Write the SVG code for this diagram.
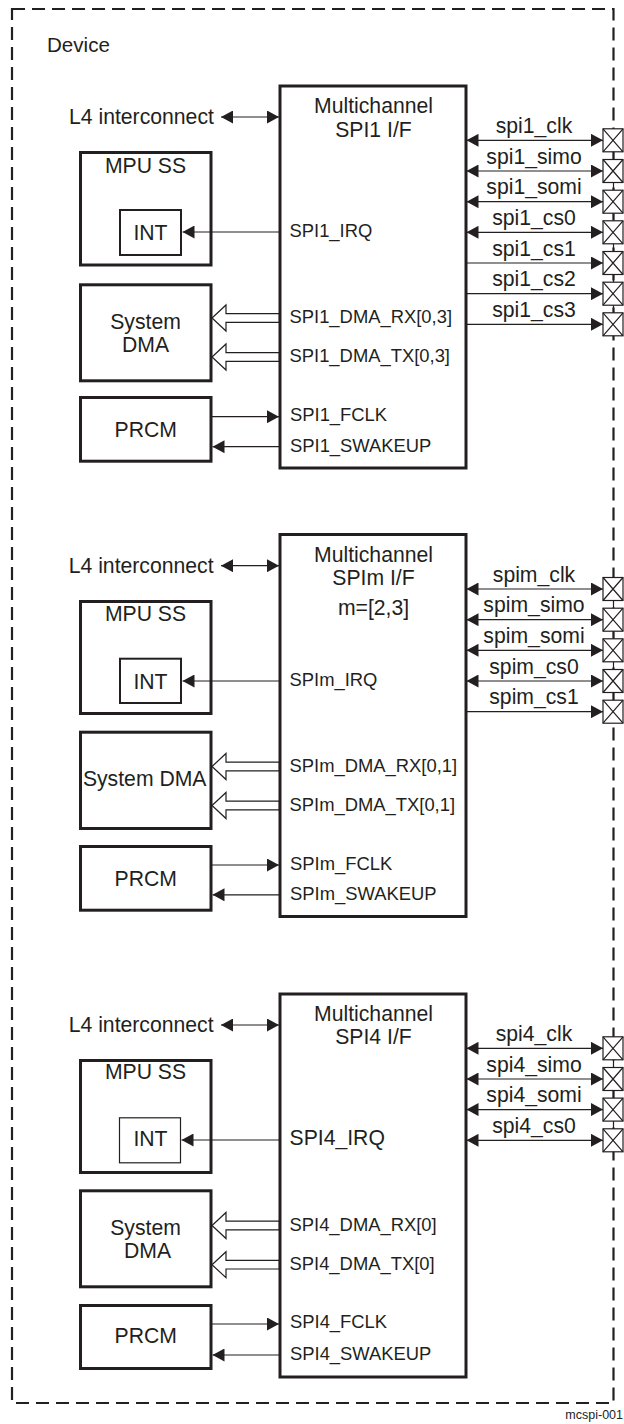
<svg xmlns="http://www.w3.org/2000/svg" width="624" height="1424" viewBox="0 0 624 1424">
<style>
  text { font-family: "Liberation Sans", Arial, sans-serif; fill: #231f20; }
  .big { font-size: 21.2px; }
  .sig { font-size: 18.4px; }
  .mid { text-anchor: middle; }
  .box { fill: #fff; stroke: #231f20; stroke-width: 3; }
  .int { fill: #fff; stroke: #231f20; stroke-width: 2; }
  .int3 { fill: #fff; stroke: #231f20; stroke-width: 1.2; }
  .ln { stroke: #231f20; stroke-width: 1.2; fill: none; }
  .bi { marker-start: url(#ahS); marker-end: url(#ahE); }
  .uni { marker-end: url(#ahE); }
  .hollow { fill: #fff; stroke: #231f20; stroke-width: 1.2; }
  .pin { fill: #fff; stroke: #231f20; stroke-width: 1.2; }
  .border { fill: none; stroke: #231f20; stroke-width: 2.2; stroke-dasharray: 13 7; }
</style>
<defs>
  <marker id="ahE" markerUnits="userSpaceOnUse" markerWidth="12" markerHeight="13" refX="12" refY="6.5" orient="auto">
    <path d="M0,0 L12,6.5 L0,13 z" fill="#231f20"/>
  </marker>
  <marker id="ahS" markerUnits="userSpaceOnUse" markerWidth="12" markerHeight="13" refX="0" refY="6.5" orient="auto">
    <path d="M12,0 L0,6.5 L12,13 z" fill="#231f20"/>
  </marker>
  <g id="pinbox">
    <rect x="-10" y="-11.5" width="20" height="23" class="pin"/>
    <path d="M-10,-11.5 L10,11.5 M-10,11.5 L10,-11.5" class="ln"/>
  </g>
</defs>

<g id="device">
  <rect x="12" y="9" width="601.5" height="1394" class="border"/>
  <text x="47" y="52" style="font-size:20.6px">Device</text>
</g>

<!-- ===== Section 1 ===== -->
<g id="spi1">
  <rect x="280" y="86" width="186" height="382" class="box"/>
  <text x="373.5" y="113.3" class="big mid">Multichannel</text>
  <text x="373.5" y="136.7" class="big mid">SPI1 I/F</text>
  <text x="289.5" y="237" class="sig">SPI1_IRQ</text>
  <text x="289.5" y="323.4" class="sig">SPI1_DMA_RX[0,3]</text>
  <text x="289.5" y="362" class="sig">SPI1_DMA_TX[0,3]</text>
  <text x="290" y="421" class="sig">SPI1_FCLK</text>
  <text x="290" y="451.7" class="sig">SPI1_SWAKEUP</text>
</g>
<g id="l4_1"><text x="69" y="124" class="big">L4 interconnect</text></g>
<g id="mpu1">
  <rect x="80.5" y="152.5" width="130.5" height="112.5" class="box"/>
  <text x="145.5" y="173" class="big mid">MPU SS</text>
</g>
<g id="int1">
  <rect x="120" y="210" width="61" height="45" class="int"/>
  <text x="150.5" y="240" class="big mid">INT</text>
</g>
<g id="dma1">
  <rect x="80.5" y="284.8" width="130.5" height="96" class="box"/>
  <text x="145.5" y="329.3" class="big mid">System</text>
  <text x="145.5" y="352.3" class="big mid">DMA</text>
</g>
<g id="prcm1">
  <rect x="80.5" y="397.5" width="130.5" height="63.7" class="box"/>
  <text x="145.8" y="436.7" class="big mid">PRCM</text>
</g>
<g id="pins1">
  <line x1="613.5" y1="140.3" x2="613.5" y2="324.3" class="ln"/>
  <use href="#pinbox" x="613" y="140.3"/>
  <use href="#pinbox" x="613" y="171"/>
  <use href="#pinbox" x="613" y="201.7"/>
  <use href="#pinbox" x="613" y="232.3"/>
  <use href="#pinbox" x="613" y="263"/>
  <use href="#pinbox" x="613" y="293.7"/>
  <use href="#pinbox" x="613" y="324.3"/>
  <text x="534" y="132.8" class="big mid">spi1_clk</text>
  <text x="534" y="163.5" class="big mid">spi1_simo</text>
  <text x="534" y="194.2" class="big mid">spi1_somi</text>
  <text x="534" y="224.8" class="big mid">spi1_cs0</text>
  <text x="534" y="255.5" class="big mid">spi1_cs1</text>
  <text x="534" y="286.2" class="big mid">spi1_cs2</text>
  <text x="534" y="316.8" class="big mid">spi1_cs3</text>
</g>

<!-- ===== Section 2 ===== -->
<g id="spim">
  <rect x="280" y="534.5" width="186" height="382" class="box"/>
  <text x="373.5" y="561.7" class="big mid">Multichannel</text>
  <text x="373.5" y="585" class="big mid">SPIm I/F</text>
  <text x="373.5" y="615" class="big mid">m=[2,3]</text>
  <text x="289.5" y="685.7" class="sig">SPIm_IRQ</text>
  <text x="289.5" y="772.3" class="sig">SPIm_DMA_RX[0,1]</text>
  <text x="289.5" y="811" class="sig">SPIm_DMA_TX[0,1]</text>
  <text x="290" y="870" class="sig">SPIm_FCLK</text>
  <text x="290" y="900" class="sig">SPIm_SWAKEUP</text>
</g>
<g id="l4_2"><text x="68.7" y="572.7" class="big">L4 interconnect</text></g>
<g id="mpu2">
  <rect x="80.5" y="601.5" width="130.5" height="112" class="box"/>
  <text x="145.5" y="620.7" class="big mid">MPU SS</text>
</g>
<g id="int2">
  <rect x="120" y="658.7" width="61" height="44.3" class="int"/>
  <text x="150.5" y="689.3" class="big mid">INT</text>
</g>
<g id="dma2">
  <rect x="80.5" y="732.2" width="130.5" height="96.3" class="box"/>
  <text x="144.7" y="785.7" class="big mid">System DMA</text>
</g>
<g id="prcm2">
  <rect x="80.5" y="846.5" width="130.5" height="63.7" class="box"/>
  <text x="145.8" y="885.7" class="big mid">PRCM</text>
</g>
<g id="pins2">
  <line x1="613.5" y1="589" x2="613.5" y2="711.7" class="ln"/>
  <use href="#pinbox" x="613" y="589"/>
  <use href="#pinbox" x="613" y="619.7"/>
  <use href="#pinbox" x="613" y="650.3"/>
  <use href="#pinbox" x="613" y="681"/>
  <use href="#pinbox" x="613" y="711.7"/>
  <text x="534" y="581.5" class="big mid">spim_clk</text>
  <text x="534" y="612.2" class="big mid">spim_simo</text>
  <text x="534" y="642.8" class="big mid">spim_somi</text>
  <text x="534" y="673.5" class="big mid">spim_cs0</text>
  <text x="534" y="704.2" class="big mid">spim_cs1</text>
</g>

<!-- ===== Section 3 ===== -->
<g id="spi4">
  <rect x="280" y="994" width="186" height="383" class="box"/>
  <text x="373.5" y="1020.7" class="big mid">Multichannel</text>
  <text x="373.5" y="1044.3" class="big mid">SPI4 I/F</text>
  <text x="289.5" y="1144.5" class="big">SPI4_IRQ</text>
  <text x="289.5" y="1231" class="sig">SPI4_DMA_RX[0]</text>
  <text x="289.5" y="1270" class="sig">SPI4_DMA_TX[0]</text>
  <text x="290" y="1328.3" class="sig">SPI4_FCLK</text>
  <text x="290" y="1360" class="sig">SPI4_SWAKEUP</text>
</g>
<g id="l4_3"><text x="68.7" y="1032.3" class="big">L4 interconnect</text></g>
<g id="mpu3">
  <rect x="80.5" y="1060.5" width="130.5" height="112" class="box"/>
  <text x="145.5" y="1079.3" class="big mid">MPU SS</text>
</g>
<g id="int3">
  <rect x="119.5" y="1117.8" width="61" height="45" class="int3"/>
  <text x="150.5" y="1145.7" class="big mid">INT</text>
</g>
<g id="dma3">
  <rect x="80.5" y="1190.8" width="130.5" height="96" class="box"/>
  <text x="145.5" y="1235" class="big mid">System</text>
  <text x="147.5" y="1258.3" class="big mid">DMA</text>
</g>
<g id="prcm3">
  <rect x="80.5" y="1305.5" width="130.5" height="63" class="box"/>
  <text x="145.8" y="1342.7" class="big mid">PRCM</text>
</g>
<g id="pins3">
  <line x1="613.5" y1="1048.3" x2="613.5" y2="1140.3" class="ln"/>
  <use href="#pinbox" x="613" y="1048.3"/>
  <use href="#pinbox" x="613" y="1079"/>
  <use href="#pinbox" x="613" y="1109.6"/>
  <use href="#pinbox" x="613" y="1140.3"/>
  <text x="534" y="1040.8" class="big mid">spi4_clk</text>
  <text x="534" y="1071.5" class="big mid">spi4_simo</text>
  <text x="534" y="1102.1" class="big mid">spi4_somi</text>
  <text x="534" y="1132.8" class="big mid">spi4_cs0</text>
</g>

<!-- ===== Connectors ===== -->
<g id="connectors">
  <!-- section 1 -->
  <line x1="221" y1="117" x2="279" y2="117" class="ln bi"/>
  <line x1="280" y1="232" x2="182.5" y2="232" class="ln uni"/>
  <path d="M279,313.7 H226 V305 L212,318 L226,331 V322.3 H279 z" class="hollow"/>
  <path d="M279,352.7 H226 V344 L212,357 L226,370 V361.3 H279 z" class="hollow"/>
  <line x1="212" y1="416.7" x2="279" y2="416.7" class="ln uni"/>
  <line x1="280" y1="446.7" x2="212.5" y2="446.7" class="ln uni"/>
  <line x1="466.5" y1="140.3" x2="603" y2="140.3" class="ln bi"/>
  <line x1="466.5" y1="171" x2="603" y2="171" class="ln bi"/>
  <line x1="466.5" y1="201.7" x2="603" y2="201.7" class="ln bi"/>
  <line x1="466.5" y1="232.3" x2="603" y2="232.3" class="ln bi"/>
  <line x1="466" y1="263" x2="603" y2="263" class="ln uni"/>
  <line x1="466" y1="293.7" x2="603" y2="293.7" class="ln uni"/>
  <line x1="466" y1="324.3" x2="603" y2="324.3" class="ln uni"/>
  <!-- section 2 -->
  <line x1="221" y1="565.7" x2="279" y2="565.7" class="ln bi"/>
  <line x1="280" y1="681" x2="182.5" y2="681" class="ln uni"/>
  <path d="M279,762.2 H226 V753.5 L212,766.5 L226,779.5 V770.8 H279 z" class="hollow"/>
  <path d="M279,801.2 H226 V792.5 L212,805.5 L226,818.5 V809.8 H279 z" class="hollow"/>
  <line x1="212" y1="865" x2="279" y2="865" class="ln uni"/>
  <line x1="280" y1="894.8" x2="212.5" y2="894.8" class="ln uni"/>
  <line x1="466.5" y1="589" x2="603" y2="589" class="ln bi"/>
  <line x1="466.5" y1="619.7" x2="603" y2="619.7" class="ln bi"/>
  <line x1="466.5" y1="650.3" x2="603" y2="650.3" class="ln bi"/>
  <line x1="466.5" y1="681" x2="603" y2="681" class="ln bi"/>
  <line x1="466" y1="711.7" x2="603" y2="711.7" class="ln uni"/>
  <!-- section 3 -->
  <line x1="221" y1="1025" x2="279" y2="1025" class="ln bi"/>
  <line x1="280" y1="1140" x2="181.5" y2="1140" class="ln uni"/>
  <path d="M279,1221.2 H226 V1212.5 L212,1225.5 L226,1238.5 V1229.8 H279 z" class="hollow"/>
  <path d="M279,1260.4 H226 V1251.7 L212,1264.7 L226,1277.7 V1269 H279 z" class="hollow"/>
  <line x1="212" y1="1324" x2="279" y2="1324" class="ln uni"/>
  <line x1="280" y1="1355" x2="212.5" y2="1355" class="ln uni"/>
  <line x1="466.5" y1="1048.3" x2="603" y2="1048.3" class="ln bi"/>
  <line x1="466.5" y1="1079" x2="603" y2="1079" class="ln bi"/>
  <line x1="466.5" y1="1109.6" x2="603" y2="1109.6" class="ln bi"/>
  <line x1="466.5" y1="1140.3" x2="603" y2="1140.3" class="ln bi"/>
</g>

<text x="623" y="1419" style="font-size:12.5px;text-anchor:end">mcspi-001</text>
</svg>
